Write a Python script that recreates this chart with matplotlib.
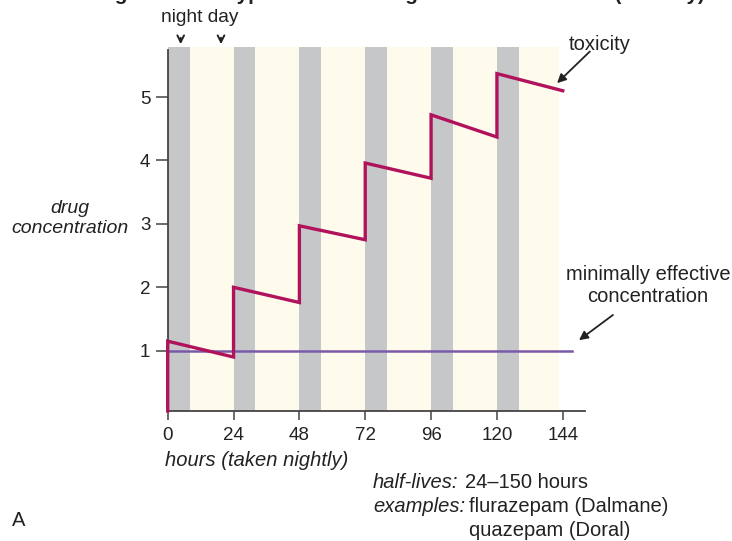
import matplotlib
matplotlib.use("Agg")
import matplotlib.pyplot as plt
import numpy as np

plt.rcParams['font.family'] = ['Liberation Sans', 'DejaVu Sans']

# --- data -------------------------------------------------------------
dose_hours = [0, 24, 48, 72, 96, 120]          # nightly doses
peak_conc = [1.15, 2.00, 2.97, 3.96, 4.72, 5.37]  # just after each dose
trough_conc = [0.90, 1.76, 2.75, 3.72, 4.37, 5.10]  # just before next dose / end
end_hour = 144
start_conc = 0.05
min_effective = 1.0
night_starts = [0, 24, 48, 72, 96, 120]
night_length = 8
day_end = 142.5
xticks = [0, 24, 48, 72, 96, 120, 144]
yticks = [1, 2, 3, 4, 5]

RED = '#b0125c'
PURPLE = '#7a5aa8'
GRAY = '#c6c7c9'
CREAM = '#fffbec'
INK = '#222222'
FS = 14.5

fig = plt.figure(figsize=(7.32, 5.41), dpi=100)
W, H = 732, 541
ax = fig.add_axes([167.7 / W, (H - 411) / H, 417.3 / W, 364 / H])
ax.set_xlim(0, 152.1)
ax.set_ylim(0.049, 5.79)

# night / day bands
for i, s in enumerate(night_starts):
    ax.axvspan(s, s + night_length, color=GRAY, lw=0, zorder=0)
    nxt = night_starts[i + 1] if i + 1 < len(night_starts) else day_end
    ax.axvspan(s + night_length, nxt, color=CREAM, lw=0, zorder=0)

# minimally effective concentration
ax.plot([0, 147.3], [min_effective, min_effective], color=PURPLE, lw=1.8, zorder=2)

# saw-tooth accumulation curve
xs = [dose_hours[0]]
ys = [start_conc]
for i, t in enumerate(dose_hours):
    t_next = dose_hours[i + 1] if i + 1 < len(dose_hours) else end_hour
    xs += [t, t_next]
    ys += [peak_conc[i], trough_conc[i]]
ax.plot(xs, ys, color=RED, lw=2.4, solid_joinstyle='miter', zorder=3,
        clip_on=False)

# axes styling
for side in ('top', 'right'):
    ax.spines[side].set_visible(False)
for side in ('left', 'bottom'):
    ax.spines[side].set_color('#444444')
    ax.spines[side].set_linewidth(1.3)
ax.spines['left'].set_bounds(0.049, 5.74)
ax.set_xticks(xticks)
ax.set_yticks(yticks)
ax.tick_params(axis='x', length=6.5, width=1.1, color='#444444',
               labelsize=13.5, labelcolor=INK, pad=5)
ax.tick_params(axis='y', length=8.5, width=1.1, color='#444444',
               labelsize=13.5, labelcolor=INK, pad=4)


def px(x, y):
    """figure pixel (from top-left) -> figure fraction"""
    return x / W, 1 - y / H


# labels
fig.text(*px(70, 218.5), 'drug\nconcentration', style='italic', fontsize=14,
         ha='center', va='center', color=INK, linespacing=1.25)
fig.text(*px(165, 461), 'hours (taken nightly)', style='italic', fontsize=FS,
         ha='left', va='center', color=INK)

fig.text(*px(600, 45), 'toxicity', fontsize=FS, ha='center', va='center', color=INK)
ax.annotate('', xy=(141.2, 5.19), xytext=(154.6, 5.75),
            arrowprops=dict(arrowstyle='-|>', color=INK, lw=1.3, mutation_scale=13),
            annotation_clip=False)

fig.text(*px(648, 285.5), 'minimally effective\nconcentration', fontsize=FS,
         ha='center', va='center', color=INK, linespacing=1.25)
ax.annotate('', xy=(149.1, 1.14), xytext=(163.1, 1.59),
            arrowprops=dict(arrowstyle='-|>', color=INK, lw=1.3, mutation_scale=13),
            annotation_clip=False)

# night / day markers
fig.text(*px(200, 18), 'night day', fontsize=13.8, ha='center', va='center', color=INK)
for xp in (180.7, 221):
    ax.annotate('', xy=px(xp, 47), xytext=px(xp, 35),
                xycoords='figure fraction', textcoords='figure fraction',
                arrowprops=dict(arrowstyle='->', color=INK, lw=1.4, mutation_scale=12))

# footnote
fig.text(*px(373, 482), 'half-lives:', style='italic', fontsize=FS,
         ha='left', va='center', color=INK)
fig.text(*px(465, 482), '24\u2013150 hours', fontsize=FS, ha='left', va='center', color=INK)
fig.text(*px(373, 507), 'examples:', style='italic', fontsize=FS,
         ha='left', va='center', color=INK)
fig.text(*px(469, 507), 'flurazepam (Dalmane)', fontsize=FS, ha='left', va='center', color=INK)
fig.text(*px(469, 530), 'quazepam (Doral)', fontsize=FS, ha='left', va='center', color=INK)

fig.text(*px(12, 520), 'A', fontsize=FS, ha='left', va='center', color=INK)

# heading (sits at the very top edge)
fig.text(77 / W, 1.0, 'Long Half-Life Hypnotics and Drug Accumulation Risk (Toxicity)',
         fontsize=14.9, fontweight='bold', ha='left', va='baseline', color=INK)

fig.savefig('out.png', dpi=100)
